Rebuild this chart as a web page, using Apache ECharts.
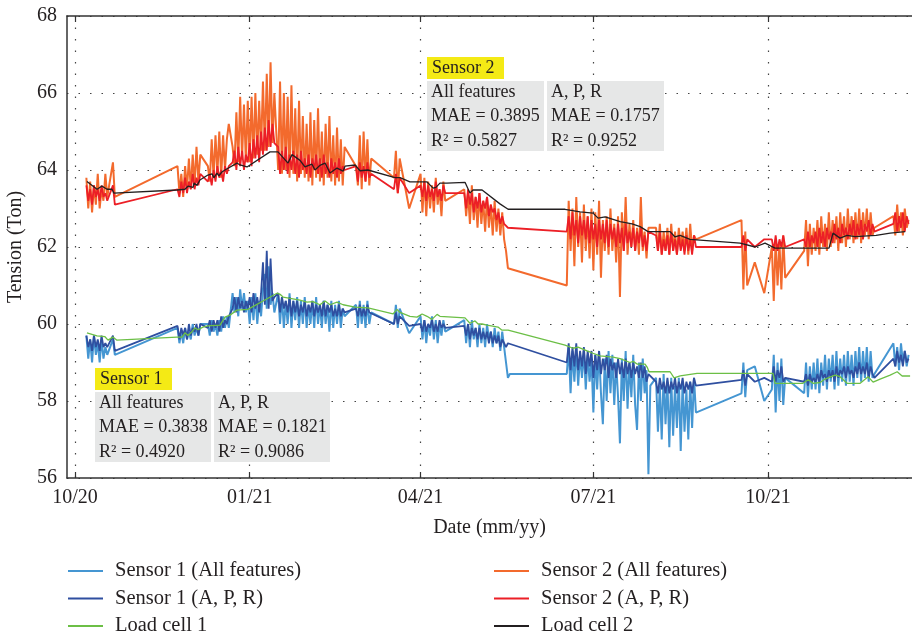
<!DOCTYPE html>
<html>
<head>
<meta charset="utf-8">
<script src="https://cdn.jsdelivr.net/npm/echarts@6/dist/echarts.min.js"></script>
<style>
  html, body { margin: 0; padding: 0; background: #fff; }
  #main { width: 912px; height: 635px; }
</style>
</head>
<body>
<div id="main"></div>
<script>
// x is counted in days from 2020-10-01
var tickDays = [0, 92, 182, 273, 365];
var tickLabels = ['10/20', '01/21', '04/21', '07/21', '10/21'];

// recording blocks: [first day, one reading per day]
var sensor1All = [
  [6, [59.7, 59.1, 59.6, 59.0, 59.7, 59.2, 59.5, 59.0, 59.6, 59.1, 59.4, 59.2]],
  [20, [59.6, 59.2]],
  [54, [59.9, 59.5, 59.8, 59.5, 59.9, 59.6, 59.8, 59.6, 60.0, 59.7, 59.9, 59.7, 60.0]],
  [70, [60.0, 59.7, 60.1, 59.8, 60.0, 59.7, 60.1, 59.8, 60.2, 59.9, 60.2, 59.9]],
  [83, [60.8, 60.3, 60.7, 60.2, 60.9, 60.4, 60.8, 60.3]],
  [91, [60.6, 60.0, 60.7, 60.1, 60.8, 60.0, 60.6, 60.2, 60.9, 61.3, 60.4, 61.5, 60.5, 60.8, 60.3]],
  [107, [60.8, 60.0, 60.7, 59.9, 60.6, 60.0, 60.8, 59.9, 60.6, 60.1, 60.7, 59.9, 60.6, 60.0, 60.7, 59.9, 60.5, 60.0,
         60.6, 59.9, 60.7, 60.0, 60.5, 59.9, 60.6, 60.0, 60.5, 59.8, 60.6, 59.9, 60.5, 60.0, 60.6, 59.9, 60.4, 60.2]],
  [148, [60.5, 59.9, 60.6, 60.0, 60.5, 59.9, 60.6, 60.0, 60.3]],
  [168, [60.0, 60.5, 59.9, 60.4]],
  [176, [59.76]],
  [182, [60.2, 59.6, 60.1, 59.5, 60.0, 59.7, 60.2, 59.6, 60.1, 59.5, 60.0, 59.7, 60.1, 59.8]],
  [205, [60.1, 59.5, 60.0, 59.4, 60.1, 59.6, 59.9, 59.4, 60.0, 59.5, 59.9, 59.4, 60.0, 59.6, 59.8, 59.4, 59.9, 59.5,
         59.8, 59.3, 59.8, 59.4]],
  [227, [59.0, 58.6, 58.7]],
  [259, [58.7, 59.4, 58.2, 59.3, 58.5, 59.4, 58.4, 59.2, 58.6, 59.3, 58.3, 59.2, 58.5, 59.1, 57.7, 59.2, 58.3, 59.3,
         58.2, 57.4, 59.1, 58.0, 59.3, 58.2, 59.2, 57.9, 59.0, 58.1, 56.9, 59.1, 58.0, 59.3, 57.8, 59.0, 58.1, 59.2,
         57.9, 57.25, 59.0, 58.0, 59.1, 58.2, 58.8, 56.1, 58.4]],
  [306, [58.6, 57.2, 58.4, 57.0, 58.7, 57.4, 58.5, 56.8, 58.6, 57.1, 58.4, 57.3, 58.6, 56.7, 58.5, 57.2, 58.3, 57.0,
         58.5, 57.3, 58.6, 57.7]],
  [351, [58.2, 59.0, 58.1, 58.8]],
  [358, [58.9]],
  [363, [58.0]],
  [367, [58.3, 59.2, 57.7, 59.0, 58.0, 59.1, 57.9, 58.6]],
  [384, [58.2, 59.0, 58.1, 58.9, 58.3, 59.0, 58.3, 59.1, 58.2, 59.0, 58.4, 59.2, 58.3, 59.1, 58.5, 59.2, 58.3, 59.3,
         58.4, 59.1, 58.5, 59.2, 58.4, 59.3, 58.5, 59.2, 58.4, 59.3, 58.6, 59.4, 58.5, 59.3, 58.6, 59.4, 58.5, 59.3,
         58.6, 58.7]],
  [431, [59.5, 58.9, 59.4, 58.8, 59.5, 59.0, 59.3, 58.9, 59.2]]
];

var sensor1Apr = [
  [6, [59.7, 59.4, 59.6, 59.3, 59.7, 59.4, 59.6, 59.3, 59.7, 59.4, 59.5, 59.4]],
  [20, [59.7, 59.3]],
  [54, [59.95, 59.6, 59.9, 59.7, 59.9, 59.6, 60.0, 59.7, 59.9, 59.8, 60.0, 59.7, 60.0]],
  [70, [59.9, 60.1, 59.8, 60.1, 59.9, 60.1, 59.8, 60.2, 59.9, 60.1, 60.0, 60.2]],
  [83, [60.4, 60.7, 60.3, 60.7, 60.4, 60.6, 60.3, 60.6]],
  [91, [60.4, 60.7, 60.3, 60.8, 60.4, 60.7, 60.3, 60.8, 61.6, 60.5, 61.9, 60.4, 61.7, 60.6, 60.7]],
  [107, [60.8, 60.3, 60.7, 60.4, 60.6, 60.3, 60.7, 60.2, 60.6, 60.3, 60.6, 60.2, 60.5, 60.3, 60.6, 60.2, 60.5, 60.3,
         60.6, 60.2, 60.5, 60.3, 60.5, 60.2, 60.6, 60.2, 60.5, 60.3, 60.5, 60.2, 60.4, 60.2, 60.5, 60.2, 60.4, 60.3]],
  [148, [60.4, 60.2, 60.5, 60.2, 60.4, 60.2, 60.5, 60.3, 60.3]],
  [168, [60.0, 60.3, 60.0, 60.2]],
  [176, [59.95]],
  [182, [60.0, 59.8, 60.1, 59.8, 60.0, 59.9, 60.1, 59.8, 60.0, 59.8, 60.1, 59.9, 60.0, 59.9]],
  [205, [59.95, 59.7, 60.0, 59.6, 59.9, 59.7, 59.9, 59.6, 59.9, 59.6, 59.8, 59.6, 59.8, 59.5, 59.8, 59.5, 59.7, 59.5,
         59.7, 59.4, 59.6, 59.5]],
  [227, [59.4, 59.5]],
  [259, [59.0, 59.5, 58.8, 59.4, 58.9, 59.5, 58.8, 59.3, 58.9, 59.4, 58.7, 59.3, 58.9, 59.3, 58.6, 59.2, 58.8, 59.3,
         58.7, 59.1, 58.8, 59.2, 58.6, 59.1, 58.8, 59.0, 58.6, 59.1, 58.7, 59.0, 58.6, 59.1, 58.7, 59.0, 58.6, 59.0,
         58.7, 58.9, 58.6, 59.0, 58.6, 58.9, 58.5, 58.7]],
  [306, [58.5, 58.2, 58.6, 58.3, 58.5, 58.2, 58.6, 58.2, 58.5, 58.3, 58.6, 58.2, 58.5, 58.3, 58.6, 58.2, 58.5, 58.3,
         58.5, 58.2, 58.6, 58.4]],
  [351, [58.55, 58.8, 58.4, 58.7]],
  [358, [58.5]],
  [363, [58.6]],
  [367, [58.5, 58.9, 58.5, 58.8, 58.6, 58.9, 58.5, 58.6]],
  [384, [58.5, 58.7, 58.4, 58.7, 58.5, 58.6, 58.5, 58.7, 58.5, 58.8, 58.6, 58.7, 58.5, 58.8, 58.6, 58.8, 58.5, 58.9,
         58.6, 58.8, 58.7, 58.9, 58.6, 58.9, 58.7, 58.8, 58.6, 58.9, 58.7, 59.0, 58.7, 58.9, 58.7, 59.0, 58.6, 58.9,
         58.7, 58.6]],
  [431, [59.1, 58.9, 59.3, 59.0, 59.2, 58.9, 59.3, 59.0, 59.1]]
];

var sensor2All = [
  [6, [63.8, 63.0, 63.7, 62.9, 63.6, 63.1, 63.9, 63.0, 63.5, 63.2, 63.9, 63.3]],
  [20, [64.2, 63.3]],
  [54, [64.1, 63.4, 63.9, 63.3, 64.1, 63.5, 64.3, 63.5, 64.4, 63.6, 64.6, 63.7, 64.4]],
  [70, [64.1, 63.7, 64.8, 63.8, 64.9, 63.9, 65.0, 63.8, 64.9, 64.0, 64.8, 65.2]],
  [83, [64.6, 64.1, 65.5, 64.2, 65.9, 64.3, 65.7, 64.2]],
  [91, [65.8, 64.2, 65.9, 64.3, 66.0, 64.4, 65.8, 64.5, 66.3, 64.5, 66.5, 64.6, 66.8, 64.7, 66.0]],
  [107, [64.0, 66.3, 63.9, 66.0, 64.0, 65.9, 63.8, 66.2, 63.9, 65.6, 63.7, 65.8, 63.9, 65.4, 63.8, 65.2, 63.7, 65.5,
         63.6, 65.3, 63.8, 65.6, 63.7, 65.0, 63.6, 65.2, 63.8, 65.4, 63.7, 64.9, 63.6, 65.1, 63.7, 64.8, 63.6, 64.6]],
  [148, [64.1, 63.6, 64.9, 63.5, 65.0, 63.7, 64.8, 63.6, 64.3]],
  [168, [63.8, 64.5, 63.4, 64.3]],
  [176, [63.0]],
  [182, [63.9, 62.9, 63.8, 62.8, 63.7, 63.0, 63.6, 62.9, 63.8, 63.1, 63.5, 62.8, 63.7, 63.2]],
  [205, [63.5, 62.8, 63.4, 62.6, 63.6, 62.7, 63.3, 62.5, 63.4, 62.6, 63.2, 62.4, 63.3, 62.5, 63.1, 62.3, 63.2, 62.4,
         63.0, 62.3, 62.9, 62.2]],
  [227, [61.9, 61.45]],
  [259, [61.0, 63.2, 61.9, 63.0, 61.5, 63.3, 62.0, 62.9, 61.6, 63.1, 61.9, 62.8, 61.7, 63.0, 61.4, 62.9, 61.8, 63.2,
         61.2, 62.7, 61.9, 62.8, 61.8, 63.0, 61.9, 62.6, 61.6, 62.8, 60.7, 62.9, 61.9, 63.3, 61.8, 62.6, 62.0, 62.7,
         61.9, 62.5, 61.8, 63.3, 61.9, 62.4, 61.7, 62.5]],
  [306, [62.5, 61.9, 62.6, 61.8, 62.4, 61.9, 62.5, 61.8, 62.6, 61.9, 62.4, 61.8, 62.5, 62.0, 62.4, 61.9, 62.5, 61.8,
         62.6, 61.9, 62.3, 62.2]],
  [351, [62.7, 60.9, 62.4, 61.0]],
  [358, [61.6]],
  [363, [60.8]],
  [367, [62.0, 60.6, 62.2, 61.0, 62.1, 60.9, 62.3, 61.2]],
  [384, [61.9, 62.7, 61.5, 62.6, 61.8, 62.5, 61.9, 62.7, 61.8, 62.8, 62.0, 62.6, 61.9, 62.9, 62.0, 62.7, 62.1, 62.8,
         61.9, 62.9, 62.1, 62.8, 62.0, 63.0, 62.2, 62.8, 62.1, 62.9, 62.2, 63.0, 62.1, 62.9, 62.3, 63.0, 62.2, 62.9,
         62.3, 62.5]],
  [431, [62.8, 62.3, 63.1, 62.4, 62.9, 62.3, 63.0, 62.5, 62.7]]
];

var sensor2Apr = [
  [6, [63.6, 63.2, 63.5, 63.1, 63.6, 63.3, 63.5, 63.2, 63.6, 63.3, 63.4, 63.2]],
  [20, [63.6, 63.1]],
  [54, [63.5, 63.3, 63.7, 63.4, 63.8, 63.4, 63.7, 63.5, 63.9, 63.5, 63.8, 63.6, 63.9]],
  [70, [63.7, 63.9, 63.6, 64.0, 63.7, 64.1, 63.8, 64.0, 63.7, 64.1, 63.9, 64.1]],
  [83, [64.2, 64.5, 64.0, 64.6, 64.1, 64.5, 64.0, 64.4]],
  [91, [64.2, 64.7, 64.1, 64.8, 64.3, 64.9, 64.2, 65.0, 64.4, 65.1, 64.5, 65.3, 64.6, 65.2, 64.7]],
  [107, [64.6, 63.9, 64.5, 64.0, 64.6, 63.9, 64.4, 64.0, 64.5, 63.9, 64.4, 63.8, 64.5, 64.0, 64.3, 63.9, 64.4, 63.8,
         64.3, 64.0, 64.4, 63.9, 64.3, 63.8, 64.4, 63.9, 64.2, 63.8, 64.3, 63.9, 64.2, 63.8, 64.3, 63.9, 64.1, 64.0]],
  [148, [64.1, 63.7, 64.2, 63.8, 64.1, 63.7, 64.2, 63.8, 63.9]],
  [168, [63.5, 63.9, 63.4, 63.8]],
  [176, [63.4]],
  [182, [63.6, 63.3, 63.7, 63.2, 63.6, 63.3, 63.5, 63.2, 63.7, 63.3, 63.5, 63.2, 63.6, 63.4]],
  [205, [63.4, 63.0, 63.5, 63.1, 63.4, 62.9, 63.3, 63.0, 63.4, 62.9, 63.2, 63.0, 63.3, 62.8, 63.1, 62.9, 63.0, 62.7,
         62.9, 62.6, 62.8, 62.6]],
  [227, [62.6, 62.5]],
  [259, [62.4, 62.8, 62.2, 62.9, 62.3, 62.7, 62.1, 62.8, 62.3, 62.7, 62.2, 62.8, 62.1, 62.7, 62.2, 62.6, 62.0, 62.7,
         62.2, 62.6, 62.1, 62.7, 62.0, 62.6, 62.2, 62.5, 62.0, 62.6, 62.1, 62.5, 61.9, 62.6, 62.1, 62.4, 62.0, 62.5,
         61.9, 62.4, 62.1, 62.5, 62.0, 62.3, 61.9, 62.4]],
  [306, [62.3, 61.9, 62.4, 61.8, 62.2, 61.9, 62.3, 61.8, 62.4, 61.9, 62.2, 61.8, 62.3, 61.9, 62.2, 61.8, 62.3, 61.9,
         62.2, 61.8, 62.3, 62.0]],
  [351, [62.0, 62.3, 61.9, 62.2]],
  [358, [62.0]],
  [363, [62.2]],
  [367, [62.2, 61.9, 62.3, 61.9, 62.2, 62.0, 62.3, 62.0]],
  [384, [62.2, 62.0, 62.4, 62.0, 62.3, 62.1, 62.4, 62.0, 62.5, 62.1, 62.4, 62.0, 62.5, 62.2, 62.4, 62.1, 62.6, 62.2,
         62.5, 62.1, 62.6, 62.3, 62.5, 62.2, 62.6, 62.3, 62.7, 62.2, 62.6, 62.3, 62.7, 62.2, 62.6, 62.4, 62.7, 62.3,
         62.6, 62.4]],
  [431, [62.6, 62.9, 62.4, 62.8, 62.5, 62.9, 62.4, 62.8, 62.6]]
];

// load cells: [day, tension]
var loadCell1 = [[6.3, 59.77], [11.6, 59.69], [15.8, 59.67], [17.4, 59.58], [20.0, 59.66], [22.1, 59.58],
  [53.7, 59.66], [56.4, 59.66], [57.9, 59.77], [59.5, 59.7], [61.6, 59.8], [63.2, 59.9], [64.8, 59.85],
  [67.4, 59.92], [70.0, 59.95], [76.4, 59.97], [79.0, 60.18], [81.6, 60.23], [85.3, 60.36], [91.1, 60.38],
  [106.4, 60.8], [108.0, 60.77], [109.6, 60.7], [118.5, 60.62], [122.2, 60.57], [125.4, 60.58], [129.0, 60.5],
  [131.7, 60.6], [134.3, 60.5], [138.0, 60.57], [141.2, 60.5], [142.2, 60.46], [147.5, 60.44], [154.3, 60.42],
  [167.5, 60.26], [169.6, 60.38], [171.2, 60.3], [176.4, 60.2], [180.1, 60.18], [182.8, 60.26], [185.4, 60.2],
  [188.0, 60.12], [190.7, 60.25], [192.2, 60.2], [205.4, 60.16], [208.0, 60.02], [210.7, 60.08], [212.3, 60.0],
  [214.4, 60.0], [217.0, 59.97], [222.8, 59.92], [224.9, 59.84], [228.1, 59.84], [258.1, 59.45], [262.3, 59.37],
  [264.9, 59.4], [269.7, 59.3], [272.8, 59.24], [276.5, 59.17], [283.4, 59.14], [287.1, 59.1], [292.3, 59.0],
  [294.0, 59.03], [296.0, 58.96], [300.2, 58.96], [301.3, 58.88], [302.3, 58.76], [313.4, 58.76], [315.5, 58.6],
  [318.7, 58.65], [327.6, 58.72], [367.6, 58.72], [368.7, 58.46], [383.4, 58.46], [386.1, 58.55], [388.7, 58.46],
  [392.4, 58.48], [395.0, 58.57], [400.3, 58.67], [402.9, 58.63], [406.6, 58.46], [413.5, 58.46], [417.7, 58.63],
  [420.3, 58.49], [424.0, 58.57], [429.3, 58.67], [433.0, 58.76], [435.6, 58.65], [439.8, 58.65]];

var loadCell2 = [[6.3, 63.7], [11.6, 63.5], [14.2, 63.58], [16.9, 63.5], [19.5, 63.5], [20.5, 63.4],
  [53.7, 63.48], [57.9, 63.5], [59.5, 63.58], [62.2, 63.55], [62.7, 63.66], [64.3, 63.6], [65.8, 63.74],
  [70.0, 63.87], [72.2, 63.9], [73.2, 63.8], [74.8, 63.92], [75.8, 63.85], [77.4, 63.95], [79.0, 64.0],
  [85.3, 64.18], [86.9, 64.13], [90.6, 64.08], [102.7, 64.47], [106.9, 64.47], [112.2, 64.18], [114.3, 64.4],
  [118.5, 64.25], [121.1, 64.08], [124.8, 64.15], [126.4, 64.0], [129.0, 64.12], [131.7, 64.18], [134.3, 63.92],
  [138.0, 64.05], [141.2, 63.97], [142.2, 64.1], [147.5, 64.13], [150.1, 63.98], [154.3, 64.0], [168.5, 63.8],
  [171.2, 63.8], [176.4, 63.69], [181.7, 63.69], [185.4, 63.69], [188.6, 63.53], [190.1, 63.55], [192.2, 63.66],
  [195.9, 63.66], [205.4, 63.68], [208.0, 63.4], [209.6, 63.48], [214.4, 63.48], [223.8, 63.12], [228.1, 62.98],
  [258.1, 62.98], [266.0, 62.91], [272.8, 62.88], [275.5, 62.75], [279.2, 62.78], [287.1, 62.66], [293.4, 62.6],
  [297.6, 62.53], [301.8, 62.4], [313.4, 62.4], [316.0, 62.26], [318.7, 62.3], [323.9, 62.2], [329.2, 62.18],
  [350.3, 62.1], [358.2, 62.0], [363.4, 62.1], [368.7, 61.97], [397.1, 61.97], [399.2, 62.36], [402.9, 62.23],
  [406.6, 62.3], [410.8, 62.27], [421.9, 62.3], [429.3, 62.36], [437.2, 62.4]];

function unpack(blocks) {
  var pts = [];
  blocks.forEach(function (b) {
    b[1].forEach(function (v, i) { pts.push([b[0] + i, v]); });
  });
  return pts;
}

var FONT = 'Liberation Serif';
var INK = '#231f20';

var chartDom = document.getElementById('main');
var myChart = echarts.init(chartDom);

function lineSeries(name, data, color, width) {
  return {
    name: name,
    type: 'line',
    data: data,
    symbol: 'none',
    silent: true,
    color: color,
    lineStyle: { color: color, width: width },
    animation: false
  };
}

var tickStyle = { inside: true, length: 6, customValues: tickDays, lineStyle: { color: '#333', width: 1.2 } };
var dotted = { type: [1.5, 10], color: '#444', width: 1.2 };

// note boxes
function note(x, y, w, head, left, right) {
  var els = [
    { type: 'rect', z: 50, shape: { x: x, y: y, width: 77, height: 22 }, style: { fill: '#f4ea15' } },
    { type: 'text', z: 51, x: x + 5, y: y + 11, style: { text: head, font: '18px ' + FONT, fill: INK, verticalAlign: 'middle' } },
    { type: 'rect', z: 50, shape: { x: x, y: y + 24, width: w, height: 70 }, style: { fill: '#e6e7e7' } },
    { type: 'rect', z: 50, shape: { x: x + w + 3, y: y + 24, width: w, height: 70 }, style: { fill: '#e6e7e7' } }
  ];
  [left, right].forEach(function (lines, k) {
    lines.forEach(function (t, i) {
      els.push({ type: 'text', z: 51, x: x + 4 + k * (w + 3), y: y + 35 + i * 24.5,
        style: { text: t, font: '18px ' + FONT, fill: INK, verticalAlign: 'middle' } });
    });
  });
  return els;
}

function legendBox(names, left) {
  return {
    data: names,
    orient: 'vertical', left: left, top: 560, height: 120, padding: 0,
    itemWidth: 35, itemHeight: 2, itemGap: 5.5,
    icon: 'rect', selectedMode: false,
    textStyle: { fontFamily: FONT, fontSize: 20.5, lineHeight: 22, color: INK, padding: [0, 0, 0, 7] }
  };
}

var option = {
  backgroundColor: '#fff',
  animation: false,
  grid: { left: 67, right: 0, top: 16, bottom: 157, outerBoundsMode: 'none', containLabel: false },
  xAxis: [
    {
      type: 'value', min: -4.2, max: 440.8, position: 'bottom',
      name: 'Date (mm/yy)', nameLocation: 'middle', nameGap: 40,
      nameTextStyle: { fontFamily: FONT, fontSize: 20, color: INK },
      axisLine: { onZero: false, lineStyle: { color: '#333', width: 1.5 } },
      axisTick: tickStyle,
      axisLabel: {
        customValues: tickDays, margin: 10,
        fontFamily: FONT, fontSize: 20, color: INK,
        formatter: function (v) { return tickLabels[tickDays.indexOf(v)]; }
      },
      splitLine: { show: true, lineStyle: dotted }
    },
    {
      type: 'value', min: -4.2, max: 440.8, position: 'top',
      axisLine: { onZero: false, lineStyle: { color: '#333', width: 1.5 } },
      axisTick: tickStyle,
      axisLabel: { show: false },
      splitLine: { show: false }
    }
  ],
  yAxis: {
    type: 'value', min: 56, max: 68, interval: 2,
    name: 'Tension (Ton)', nameLocation: 'middle', nameGap: 40,
    nameTextStyle: { fontFamily: FONT, fontSize: 20, color: INK },
    axisLine: { show: true, onZero: false, lineStyle: { color: '#333', width: 1.5 } },
    axisTick: { show: false },
    axisLabel: { fontFamily: FONT, fontSize: 20, color: INK, margin: 10 },
    splitLine: { show: true, lineStyle: dotted }
  },
  legend: [
    legendBox(['Sensor 1 (All features)', 'Sensor 1 (A, P, R)', 'Load cell 1'], 68),
    legendBox(['Sensor 2 (All features)', 'Sensor 2 (A, P, R)', 'Load cell 2'], 494)
  ],
  graphic: note(427, 57, 117, 'Sensor 2',
      ['All features', 'MAE = 0.3895', 'R\u00b2 = 0.5827'],
      ['A, P, R', 'MAE = 0.1757', 'R\u00b2 = 0.9252'])
    .concat(note(95, 368, 116, 'Sensor 1',
      ['All features', 'MAE = 0.3838', 'R\u00b2 = 0.4920'],
      ['A, P, R', 'MAE = 0.1821', 'R\u00b2 = 0.9086'])),
  series: [
    lineSeries('Sensor 1 (All features)', unpack(sensor1All), '#4596d2', 2),
    lineSeries('Sensor 2 (All features)', unpack(sensor2All), '#f36a2d', 2),
    lineSeries('Sensor 1 (A, P, R)', unpack(sensor1Apr), '#2f4fa0', 1.8),
    lineSeries('Sensor 2 (A, P, R)', unpack(sensor2Apr), '#ec1f26', 1.8),
    lineSeries('Load cell 1', loadCell1, '#6cbf46', 1.3),
    lineSeries('Load cell 2', loadCell2, '#231f20', 1.3)
  ]
};

myChart.setOption(option);
window.onresize = function () { myChart.resize(); };
</script>
</body>
</html>
